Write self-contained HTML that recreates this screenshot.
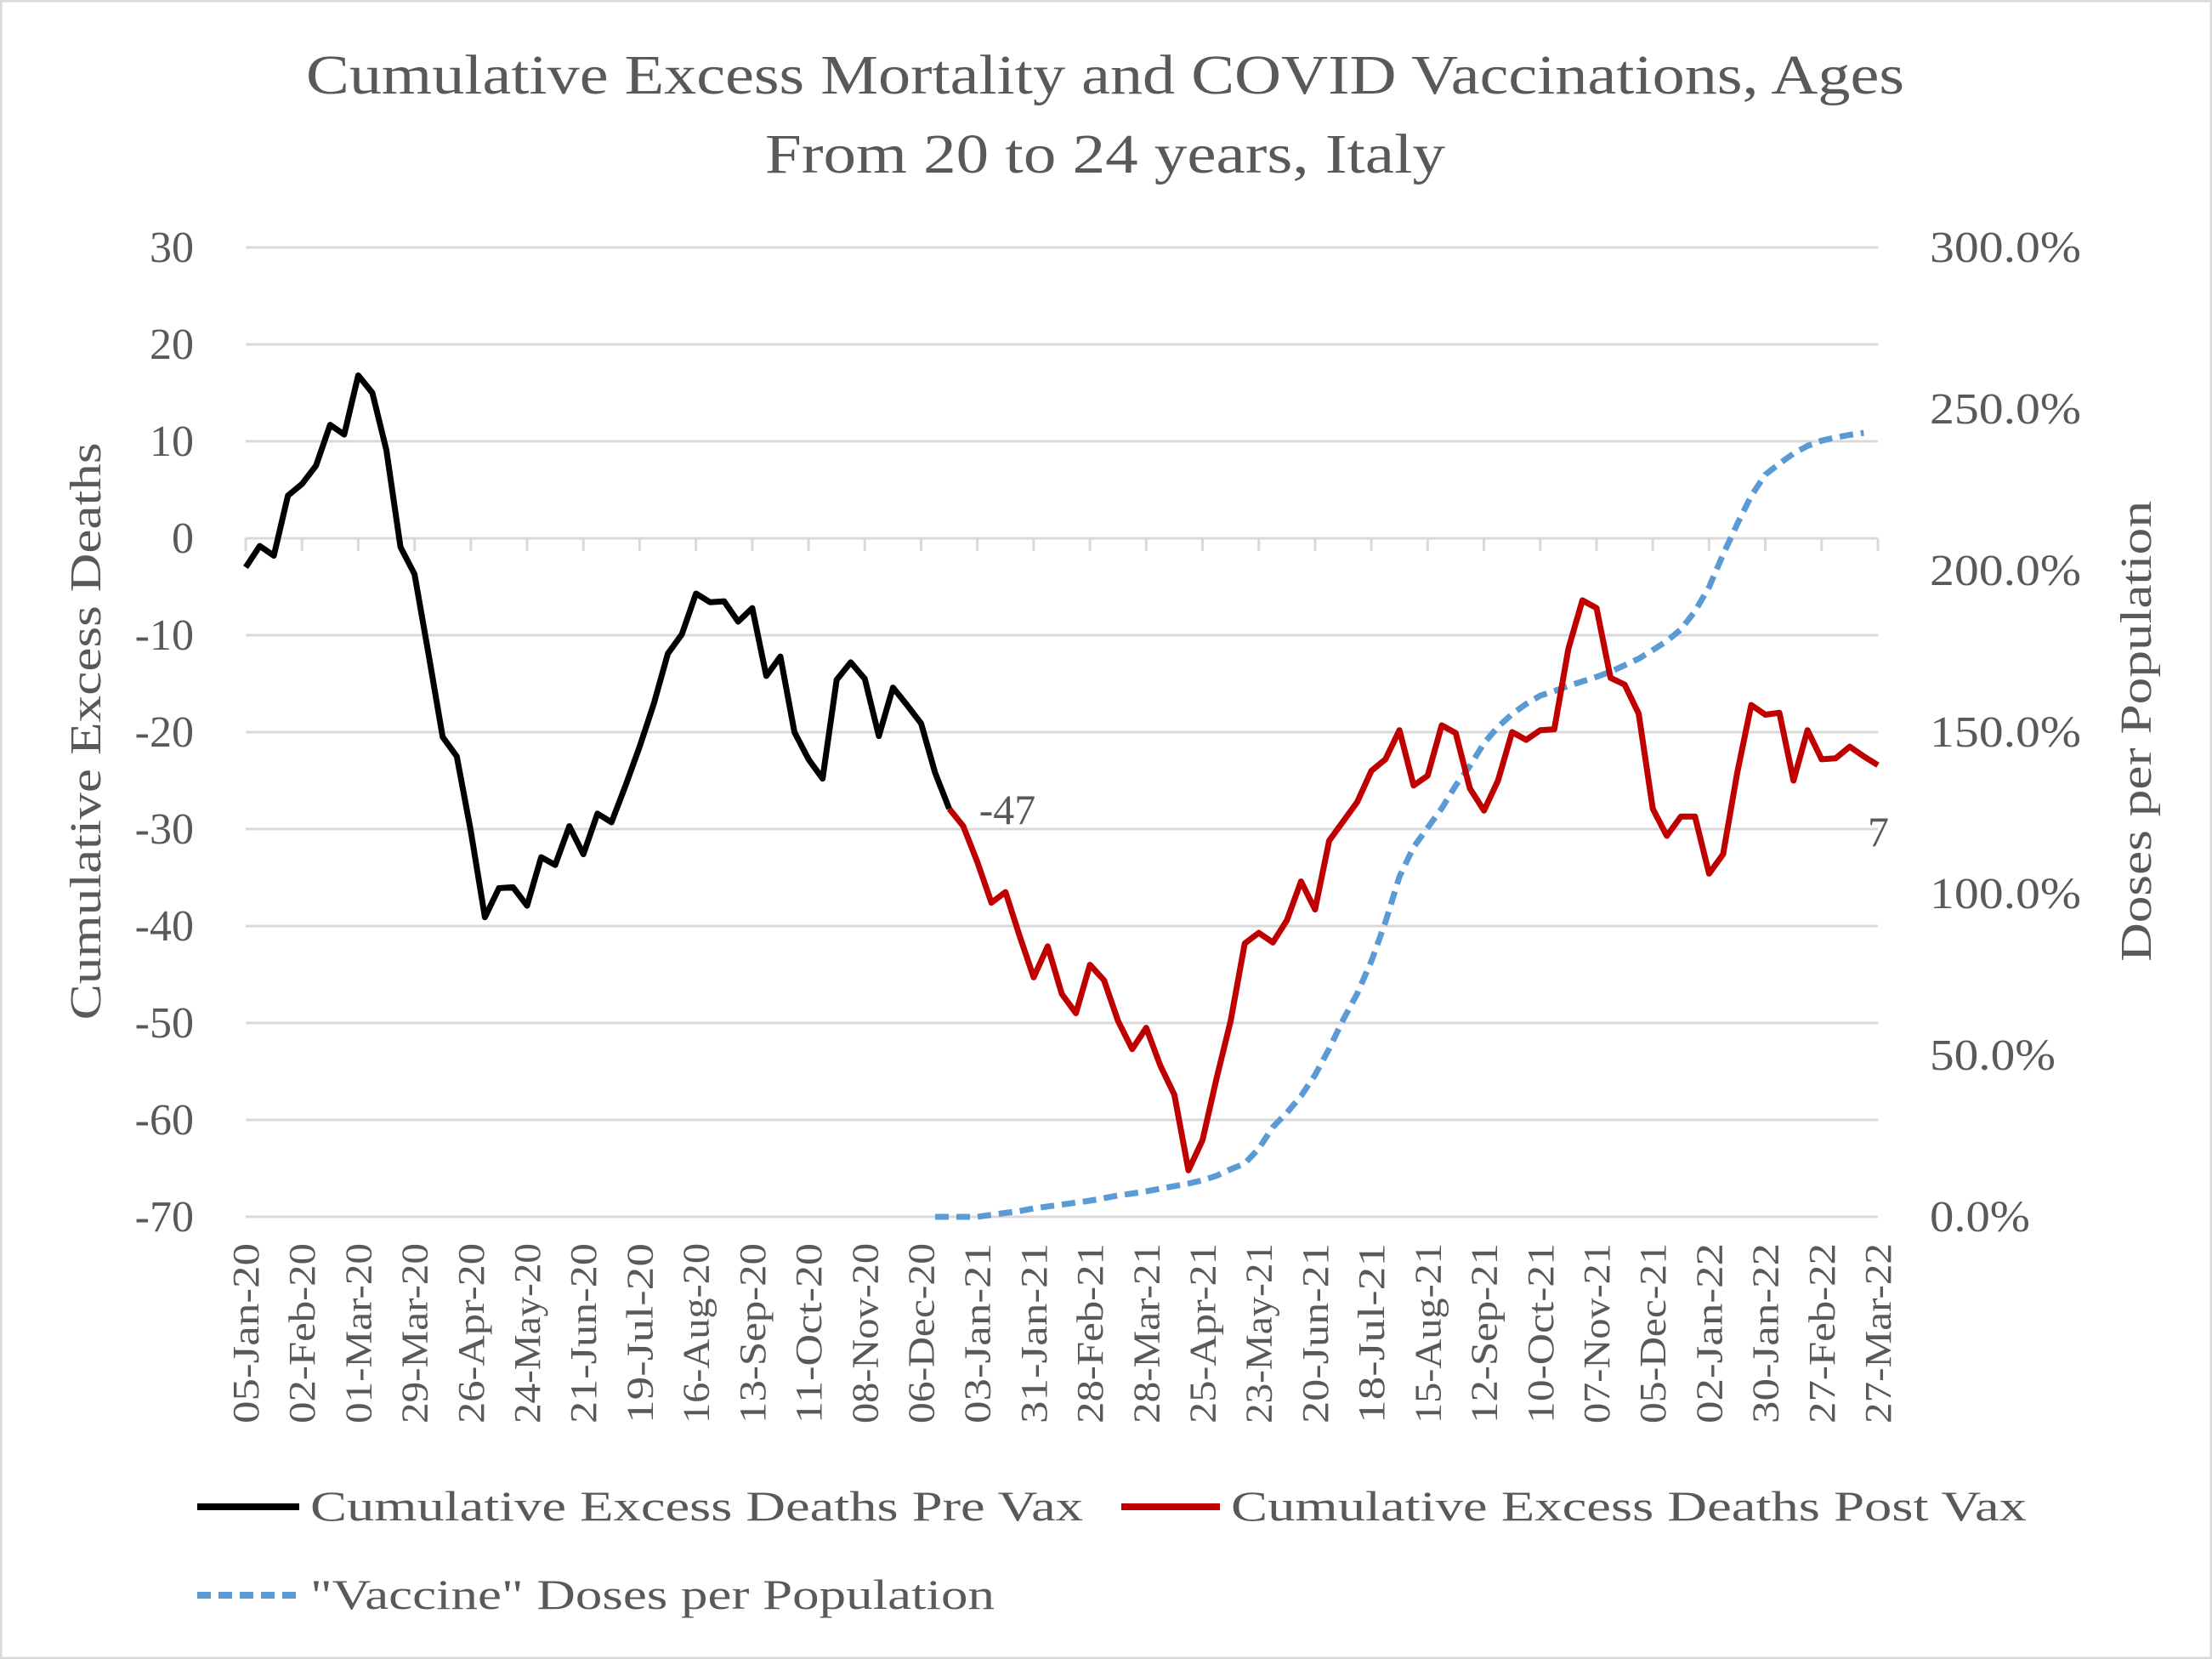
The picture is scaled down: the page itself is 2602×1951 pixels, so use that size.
<!DOCTYPE html>
<html><head><meta charset="utf-8"><style>
html,body{margin:0;padding:0;background:#fff}
svg{display:block}
text{font-family:"Liberation Serif",serif;fill:#595959}
</style></head><body>
<svg id="chart" width="2602" height="1951" viewBox="0 0 2602 1951" xmlns="http://www.w3.org/2000/svg">
<rect x="1" y="1" width="2600" height="1949" fill="#fff" stroke="#d9d9d9" stroke-width="3"/>
<text x="1300" y="110" text-anchor="middle" font-size="66" textLength="1880" lengthAdjust="spacingAndGlyphs">Cumulative Excess Mortality and COVID Vaccinations, Ages</text>
<text x="1300" y="203" text-anchor="middle" font-size="66" textLength="800" lengthAdjust="spacingAndGlyphs">From 20 to 24 years, Italy</text>
<g id="grid"></g>
<g id="axes"></g>
<g id="series"></g>
<text transform="translate(118,860) rotate(-90)" text-anchor="middle" font-size="52" textLength="679" lengthAdjust="spacingAndGlyphs">Cumulative Excess Deaths</text>
<text transform="translate(2530,860) rotate(-90)" text-anchor="middle" font-size="52" textLength="542" lengthAdjust="spacingAndGlyphs">Doses per Population</text>
<g>
<line x1="232" y1="1772" x2="352" y2="1772" stroke="#000" stroke-width="8"/>
<text x="365" y="1788" font-size="50" textLength="909" lengthAdjust="spacingAndGlyphs">Cumulative Excess Deaths Pre Vax</text>
<line x1="1319" y1="1772" x2="1435" y2="1772" stroke="#c00000" stroke-width="8"/>
<text x="1448" y="1788" font-size="50" textLength="936" lengthAdjust="spacingAndGlyphs">Cumulative Excess Deaths Post Vax</text>
<line x1="232" y1="1876" x2="352" y2="1876" stroke="#5b9bd5" stroke-width="8" stroke-dasharray="16,9"/>
<text x="365" y="1892" font-size="50" textLength="805" lengthAdjust="spacingAndGlyphs">"Vaccine" Doses per Population</text>
</g>
</svg>
<script>
const tickLabels = ["05-Jan-20","02-Feb-20","01-Mar-20","29-Mar-20","26-Apr-20","24-May-20","21-Jun-20","19-Jul-20","16-Aug-20","13-Sep-20","11-Oct-20","08-Nov-20","06-Dec-20","03-Jan-21","31-Jan-21","28-Feb-21","28-Mar-21","25-Apr-21","23-May-21","20-Jun-21","18-Jul-21","15-Aug-21","12-Sep-21","10-Oct-21","07-Nov-21","05-Dec-21","02-Jan-22","30-Jan-22","27-Feb-22","27-Mar-22"];
const leftTicks = [30,20,10,0,-10,-20,-30,-40,-50,-60,-70];
const rightTicks = [300,250,200,150,100,50,0];
const preVax = [-3.0,-0.8,-1.8,4.4,5.6,7.5,11.7,10.7,16.8,15.0,9.1,-0.9,-3.7,-12.0,-20.5,-22.5,-30.2,-39.1,-36.1,-36.0,-37.9,-32.9,-33.7,-29.7,-32.6,-28.4,-29.3,-25.5,-21.5,-17.1,-11.9,-9.9,-5.7,-6.6,-6.5,-8.6,-7.2,-14.2,-12.2,-20.0,-22.8,-24.8,-14.6,-12.8,-14.5,-20.4,-15.4,-17.2,-19.1,-24.2,-27.9];
const postVax = [-27.9,-29.7,-33.4,-37.6,-36.5,-41.0,-45.3,-42.1,-47.0,-49.0,-44.0,-45.6,-49.8,-52.7,-50.5,-54.4,-57.4,-65.2,-62.1,-55.7,-49.8,-41.8,-40.7,-41.7,-39.4,-35.4,-38.3,-31.2,-29.2,-27.2,-24.0,-22.8,-19.8,-25.5,-24.5,-19.3,-20.1,-25.8,-28.1,-25.0,-20.0,-20.8,-19.8,-19.7,-11.4,-6.4,-7.2,-14.4,-15.1,-18.1,-27.9,-30.7,-28.7,-28.7,-34.6,-32.6,-24.2,-17.2,-18.2,-18.0,-25.0,-19.8,-22.8,-22.7,-21.5,-22.5,-23.4];
const doses = [0,0,0,0,0.6,1.2,1.8,2.6,3.2,3.8,4.4,5.0,5.8,6.6,7.2,7.9,8.7,9.5,10.3,11.3,12.7,14.7,16.5,21.1,27.8,32.2,37.4,43.9,52.0,61.0,69.1,79.1,91.2,105.3,114.4,120.4,126.4,133.5,139.5,146.6,151.6,155.6,158.7,161.3,162.7,164.3,165.7,167.1,168.7,170.7,172.7,175.4,178.2,181.8,187.4,194.9,205.0,214.4,223.1,229.7,233.1,236.2,238.6,240.2,241.2,242.0,242.6];
const preStart = 0, postStart = 50, dosesStart = 49, nWeeks = 116;
const startLabel = "-47", endLabel = "7";

const NS = "http://www.w3.org/2000/svg";
const X0 = 289, X1 = 2209, YT = 291, YB = 1431;
const xw = w => X0 + (X1 - X0) * w / nWeeks;
const yl = v => YT + (YB - YT) * (30 - v) / 100;
const yr = p => YB - (YB - YT) * p / 300;
function mk(tag, attrs, parent){const e=document.createElementNS(NS,tag);for(const k in attrs)e.setAttribute(k,attrs[k]);parent.appendChild(e);return e;}
const grid=document.getElementById('grid'), axes=document.getElementById('axes'), series=document.getElementById('series');
leftTicks.forEach(v=>{
  const g=mk('line',{x1:X0,x2:X1,y1:yl(v),y2:yl(v),stroke:'#d9d9d9','stroke-width':3},grid);
  
  
  const t=mk('text',{x:228,y:yl(v)+17,'text-anchor':'end','font-size':52},axes);
  t.textContent=v;
  
  
});
rightTicks.forEach(p=>{
  const s=p.toFixed(1)+'%';
  const t=mk('text',{x:2270,y:yr(p)+17,'font-size':52,textLength:s.length*30-2,lengthAdjust:'spacingAndGlyphs'},axes);
  t.textContent=s;
  
  
});
tickLabels.forEach((lab,i)=>{
  const x=xw(i*4);
  const tk=mk('line',{x1:x,x2:x,y1:yl(0),y2:yl(0)+15,stroke:'#d9d9d9','stroke-width':3},axes);
  
  
  const t=mk('text',{transform:`translate(${x+15},1462) rotate(-90)`,'text-anchor':'end','font-size':44,textLength:lab.length>9?220:212,lengthAdjust:'spacingAndGlyphs'},axes);
  t.textContent=lab;
  
  
});
function poly(vals,start,yf,attrs,name){
  const pts=vals.map((v,i)=>xw(start+i).toFixed(1)+','+yf(v).toFixed(1)).join(' ');
  const p=mk('polyline',Object.assign({points:pts,fill:'none','stroke-linejoin':'round'},attrs),series);
  
  
}
poly(doses,dosesStart,yr,{stroke:'#5b9bd5','stroke-width':7,'stroke-dasharray':'16,9'},'doses-line');
poly(preVax,preStart,yl,{stroke:'#000','stroke-width':7},'pre-vax-line');
poly(postVax,postStart,yl,{stroke:'#c00000','stroke-width':7},'post-vax-line');
const l1=mk('text',{x:xw(postStart)+35,y:yl(postVax[0])+18,'font-size':50,fill:'#404040'},series);
l1.textContent=startLabel;


const l2=mk('text',{x:xw(nWeeks)-12,y:yl(postVax[postVax.length-1])+95,'font-size':50,fill:'#404040'},series);
l2.textContent=endLabel;


</script>
</body></html>
